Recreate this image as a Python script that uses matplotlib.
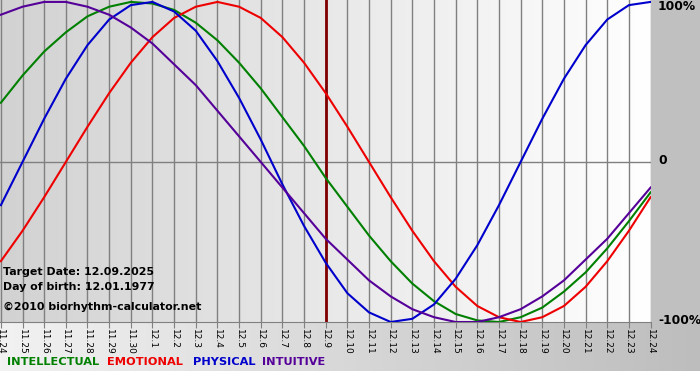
import matplotlib
matplotlib.use("Agg")
import matplotlib.pyplot as plt
import numpy as np
from matplotlib.colors import LinearSegmentedColormap

# dates shown on the x axis (target date 12.9)
fechas = ["11.24", "11.25", "11.26", "11.27", "11.28", "11.29", "11.30",
          "12.1", "12.2", "12.3", "12.4", "12.5", "12.6", "12.7", "12.8",
          "12.9", "12.10", "12.11", "12.12", "12.13", "12.14", "12.15",
          "12.16", "12.17", "12.18", "12.19", "12.20", "12.21", "12.22",
          "12.23", "12.24"]
objetivo = "12.9"

# values, -1 .. 1 (= -100% .. 100%)
intelectual = [0.37, 0.54, 0.69, 0.81, 0.91, 0.97, 1.00, 0.99, 0.95, 0.87,
               0.76, 0.62, 0.46, 0.28, 0.10, -0.10, -0.28, -0.46, -0.62,
               -0.76, -0.87, -0.95, -0.99, -1.00, -0.97, -0.91, -0.81,
               -0.69, -0.54, -0.37, -0.19]
emocional = [-0.62, -0.43, -0.22, 0.00, 0.22, 0.43, 0.62, 0.78, 0.90, 0.97,
             1.00, 0.97, 0.90, 0.78, 0.62, 0.43, 0.22, 0.00, -0.22, -0.43,
             -0.62, -0.78, -0.90, -0.97, -1.00, -0.97, -0.90, -0.78, -0.62,
             -0.43, -0.22]
fisico = [-0.27, 0.00, 0.27, 0.52, 0.73, 0.89, 0.98, 1.00, 0.94, 0.82, 0.63,
          0.40, 0.14, -0.14, -0.40, -0.63, -0.82, -0.94, -1.00, -0.98, -0.89,
          -0.73, -0.52, -0.27, 0.00, 0.27, 0.52, 0.73, 0.89, 0.98, 1.00]
intuitivo = [0.92, 0.97, 1.00, 1.00, 0.97, 0.92, 0.84, 0.74, 0.61, 0.48,
             0.32, 0.16, 0.00, -0.16, -0.32, -0.48, -0.61, -0.74, -0.84,
             -0.92, -0.97, -1.00, -1.00, -0.97, -0.92, -0.84, -0.74, -0.61,
             -0.48, -0.32, -0.16]

series = [("INTELLECTUAL", intelectual, "#008000"),
          ("EMOTIONAL", emocional, "#ee0000"),
          ("PHYSICAL", fisico, "#0000cc"),
          ("INTUITIVE", intuitivo, "#550099")]

W, H = 700, 380
fig = plt.figure(figsize=(7, 3.8), dpi=100)
fig.patch.set_facecolor("white")

# bottom strip with gradient and grey panel on the right
tira = fig.add_axes([0, (H - 371) / H, 1, 49 / H], zorder=0)
tira.imshow(np.linspace(0, 1, 256).reshape(1, -1), aspect="auto",
            cmap=LinearSegmentedColormap.from_list("t", ["#f2f2f2", "#bdbdbd"]),
            extent=[0, 1, 0, 1])
tira.axis("off")
panel = fig.add_axes([651 / W, (H - 322) / H, 49 / W, 322 / H], zorder=0)
panel.set_facecolor("#c0c0c0")
panel.set_xticks([])
panel.set_yticks([])
for s in panel.spines.values():
    s.set_visible(False)

ax = fig.add_axes([0, (H - 322) / H, 651 / W, 322 / H], zorder=1)
x = np.arange(len(fechas))
ax.set_xlim(-0.04, len(fechas) - 1 + 0.02)
ax.set_ylim(-1.0, 1.012)
ax.imshow(np.linspace(0, 1, 256).reshape(1, -1), aspect="auto",
          cmap=LinearSegmentedColormap.from_list("g", ["#d2d2d2", "#ffffff"]),
          extent=[-0.04, len(fechas) - 1 + 0.02, -1.0, 1.012], zorder=0)

ax.set_xticks(x)
ax.set_xticklabels(fechas, rotation=-90, fontsize=6.5, va="top", ha="center")
ax.set_yticks([])
ax.tick_params(axis="x", length=4, color="#808080", pad=1)
ax.grid(axis="x", color="#808080", lw=1, zorder=1)
ax.axhline(0, color="#808080", lw=1, zorder=1)
for s in ["top", "left", "right"]:
    ax.spines[s].set_visible(False)
ax.spines["bottom"].set_color("#808080")

ax.axvline(fechas.index(objetivo), color="#800000", lw=2, zorder=2)

for nombre, vals, col in series:
    ax.plot(x, vals, color=col, lw=1.5, zorder=3, solid_joinstyle="round")

def px_text(px, py, s, **kw):
    fig.text(px / W, 1 - py / H, s, va="center", fontweight="bold", **kw)

px_text(3, 272, "Target Date: 12.09.2025", fontsize=7.9, zorder=5)
px_text(3, 287, "Day of birth: 12.01.1977", fontsize=7.9, zorder=5)
px_text(3, 307, "\u00a92010 biorhythm-calculator.net", fontsize=7.9, zorder=5)

px_text(658, 7, "100%", fontsize=8.8, zorder=5)
px_text(658, 161, "0", fontsize=8.8, zorder=5)
px_text(658, 321, "-100%", fontsize=8.8, zorder=5)

# legend row
pos = [7, 107, 193, 262]
for (nombre, vals, col), p in zip(series, pos):
    px_text(p, 362, nombre, fontsize=8.2, color=col, zorder=5)

plt.savefig("out.png", dpi=100)
